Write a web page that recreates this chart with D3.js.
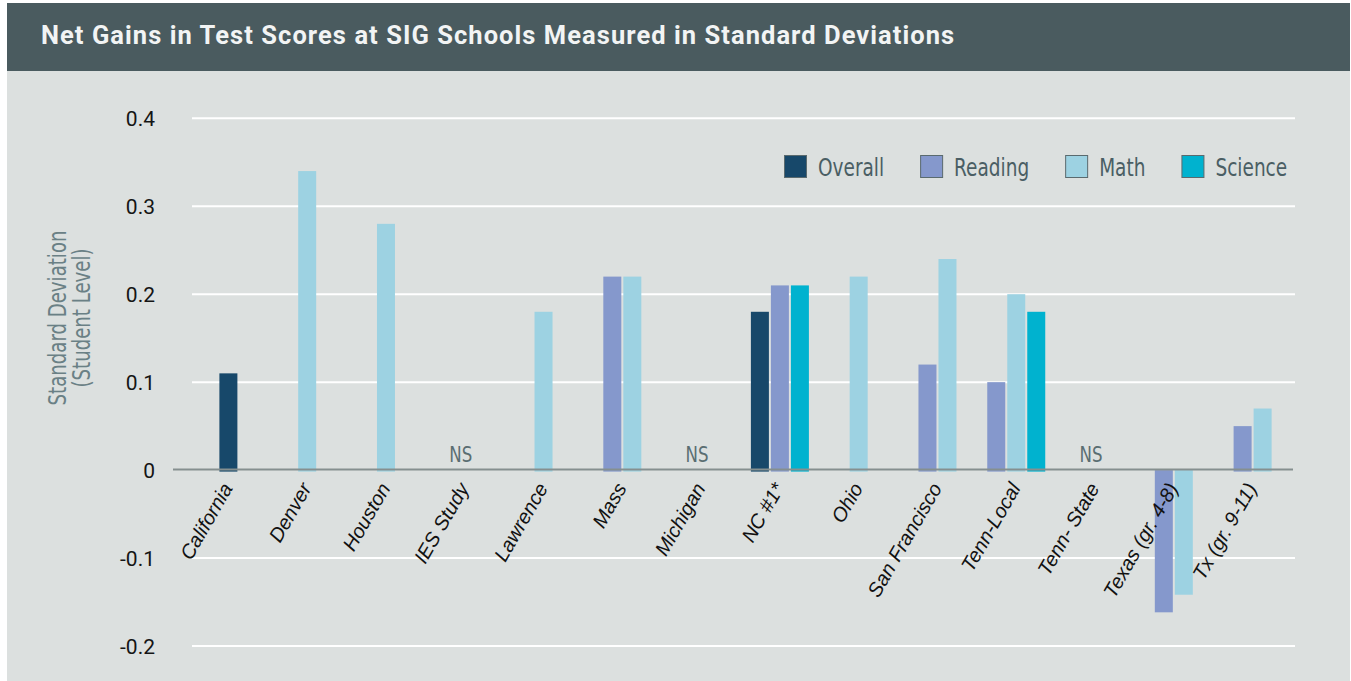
<!DOCTYPE html>
<html>
<head>
<meta charset="utf-8">
<script src="https://cdn.jsdelivr.net/npm/d3@7"></script>
<style>
  html, body { margin: 0; padding: 0; background: #fff; }
  svg { display: block; }
</style>
</head>
<body>
<div id="chart"></div>
<script>
// chart data
var categories = ["California", "Denver", "Houston", "IES Study", "Lawrence", "Mass", "Michigan",
    "NC #1*", "Ohio", "San Francisco", "Tenn-Local", "Tenn- State", "Texas (gr. 4-8)", "Tx (gr. 9-11)"];
var overall = [0.11, null, null, null, null, null, null, 0.18, null, null, null, null, null, null];
var reading = [null, null, null, null, null, 0.22, null, 0.21, null, 0.12, 0.10, null, -0.16, 0.05];
var math    = [null, 0.34, 0.28, null, 0.18, 0.22, null, null, 0.22, 0.24, 0.20, null, -0.14, 0.07];
var science = [null, null, null, null, null, null, null, 0.21, null, null, 0.18, null, null, null];
var notSignificant = ["IES Study", "Michigan", "Tenn- State"];
var yTicks = [-0.2, -0.1, 0, 0.1, 0.2, 0.3, 0.4];
var yTickLabels = ["-0.2", "-0.1", "0", "0.1", "0.2", "0.3", "0.4"];
var seriesNames = ["Overall", "Reading", "Math", "Science"];

var seriesValues = [overall, reading, math, science];
var colors = ["#17486a", "#8598cc", "#9dd2e2", "#00b2cf"];

const W = 1351, H = 681;
const barW = 18, barGap = 2;
const condensed = '"Liberation Sans Narrow", "DejaVu Sans Condensed", sans-serif';
const squeeze = 0.84; // horizontal squeeze to get the condensed look

var svg = d3.select('#chart')
    .append('svg')
    .attr('width', W)
    .attr('height', H)

// panel + header
svg.append('rect').attr('x', 7).attr('y', 3).attr('width', W - 8).attr('height', H - 3).attr('fill', '#dce0df')
svg.append('rect').attr('x', 7).attr('y', 3).attr('width', W - 8).attr('height', 68).attr('fill', '#4a5b5f')
svg.append('text')
    .attr('x', 41).attr('y', 44)
    .style('font-family', 'Roboto, sans-serif')
    .style('font-weight', 'bold')
    .style('font-size', '25.5px')
    .style('letter-spacing', '1.05px')
    .attr('fill', '#f2f4f4')
    .text('Net Gains in Test Scores at SIG Schools Measured in Standard Deviations')

var x = d3.scaleBand()
    .domain(categories)
    .range([189, 1292])
    .padding(0)

var y = d3.scaleLinear()
    .domain([-0.2, 0.4])
    .range([646, 118.3])

// gridlines
svg.append('g').selectAll('line')
    .data(yTicks.filter(function(t) { return t !== 0 }))
    .enter().append('line')
    .attr('x1', 192).attr('x2', 1295)
    .attr('y1', function(d) { return y(d) }).attr('y2', function(d) { return y(d) })
    .attr('stroke', '#ffffff').attr('stroke-width', 2)

// tick labels
svg.append('g').selectAll('text')
    .data(yTicks)
    .enter().append('text')
    .attr('x', 155)
    .attr('y', function(d) { return y(d) })
    .attr('dy', '0.36em')
    .attr('text-anchor', 'end')
    .style('font-family', 'Roboto, sans-serif')
    .style('font-size', '21px')
    .attr('fill', '#151515')
    .text(function(d, i) { return yTickLabels[i] })

// y title
var yt = svg.append('text')
    .attr('transform', 'translate(68,318) rotate(-90) scale(' + squeeze + ',1)')
    .attr('text-anchor', 'middle')
    .style('font-family', condensed)
    .style('font-size', '24px')
    .attr('fill', '#6a8085')
yt.append('tspan').attr('x', 0).attr('dy', '-0.1em').text('Standard Deviation')
yt.append('tspan').attr('x', 0).attr('dy', '1.0em').text('(Student Level)')

// bars
var bars = [];
categories.forEach(function(c, i) {
    var present = [];
    seriesValues.forEach(function(vals, s) {
        if (vals[i] !== null) present.push({ cat: c, series: s, value: vals[i] });
    });
    var total = present.length * (barW + barGap) - barGap;
    var start = x(c) + x.bandwidth() / 2 - total / 2;
    present.forEach(function(p, k) {
        p.x = start + k * (barW + barGap);
        bars.push(p);
    });
});

svg.append('g').selectAll('rect')
    .data(bars)
    .enter().append('rect')
    .attr('x', function(d) { return d.x })
    .attr('width', barW)
    .attr('y', function(d) { return d.value > 0 ? y(d.value) : y(0) })
    .attr('height', function(d) { return Math.abs(y(d.value) - y(0)) + 1.5 })
    .attr('fill', function(d) { return colors[d.series] })

// zero axis line
svg.append('line')
    .attr('x1', 173).attr('x2', 1293)
    .attr('y1', y(0) - 0.5).attr('y2', y(0) - 0.5)
    .attr('stroke', '#858f8f').attr('stroke-width', 2)

// NS labels
svg.append('g').selectAll('text')
    .data(notSignificant)
    .enter().append('text')
    .attr('transform', function(d) { return 'translate(' + (x(d) + x.bandwidth() / 2 - 4) + ',462) scale(' + squeeze + ',1)' })
    .attr('text-anchor', 'middle')
    .style('font-family', condensed)
    .style('font-size', '22px')
    .attr('fill', '#5a6e72')
    .text(function(d) { return 'NS' })

// category labels
svg.append('g').selectAll('text')
    .data(categories)
    .enter().append('text')
    .attr('transform', function(d) { return 'translate(' + (x(d) + x.bandwidth() / 2 + 5) + ',488) rotate(-60)' })
    .attr('text-anchor', 'end')
    .style('font-family', '"Liberation Sans", Arial, sans-serif')
    .style('font-style', 'italic')
    .style('font-size', '20px')
    .attr('fill', '#111')
    .text(function(d) { return d })

// legend
var lx = 784;
seriesNames.forEach(function(name, s) {
    var g = svg.append('g').attr('transform', 'translate(' + lx + ',155)');
    g.append('rect').attr('x', 0.5).attr('y', 0.5).attr('width', 22).attr('height', 22)
        .attr('fill', colors[s]).attr('stroke', '#5a6a6e').attr('stroke-width', 1);
    var t = g.append('text')
        .attr('transform', 'translate(34,21) scale(' + squeeze + ',1)')
        .style('font-family', condensed)
        .style('font-size', '24.5px')
        .attr('fill', '#4a5e64')
        .text(name);
    lx += 34 + t.node().getComputedTextLength() * squeeze + 36;
});
</script>
</body>
</html>
